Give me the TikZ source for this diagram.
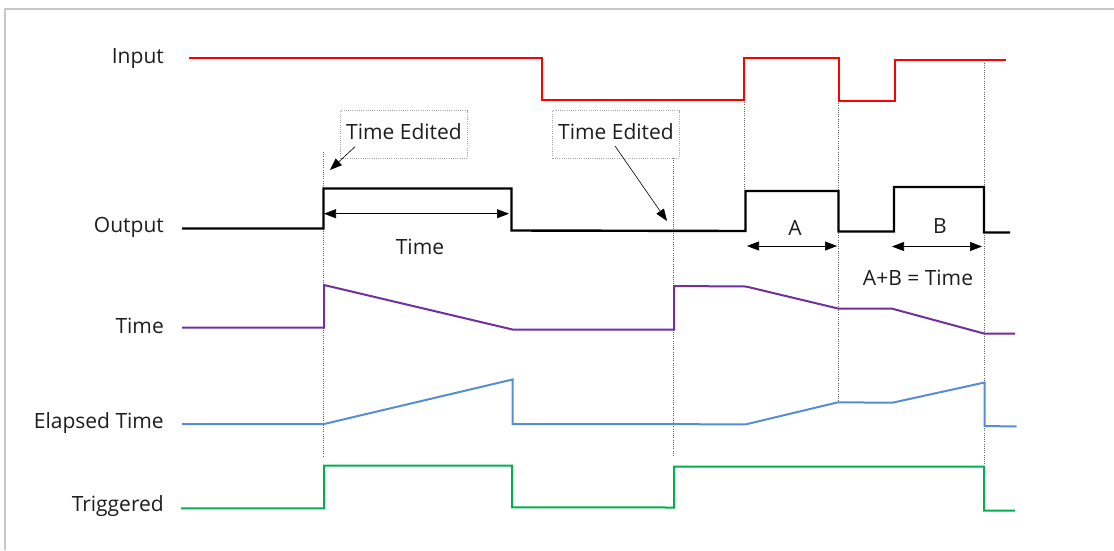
\documentclass[tikz,border=0pt]{standalone}
\usepackage{fontspec}
\setmainfont{Open Sans}
\usetikzlibrary{arrows.meta}
\definecolor{inred}{RGB}{255,0,0}
\definecolor{tpurple}{RGB}{112,48,160}
\definecolor{eblue}{RGB}{85,142,213}
\definecolor{tgreen}{RGB}{0,176,80}
\definecolor{txt}{RGB}{30,30,30}
\definecolor{frame}{RGB}{200,200,200}
\tikzset{
  sig/.style={line width=2pt, line join=miter},
  siglabel/.style={anchor=base east, text=txt, font=\fontsize{21}{25}\selectfont, inner sep=0pt},
  guide/.style={gray!80!black, line width=0.9pt, dash pattern=on 1pt off 1.2pt},
  editbox/.style={draw=gray!70, line width=0.8pt, dash pattern=on 1pt off 1.2pt, minimum width=126.6pt, minimum height=47.6pt, inner sep=0pt},
  edittext/.style={anchor=base, text=txt, font=\fontsize{21}{25}\selectfont, inner sep=0pt},
  callout/.style={-{Triangle[length=12pt,width=9pt]}, line width=0.6pt, black},
  dimarrow/.style={{Triangle[length=12pt,width=9pt]}-{Triangle[length=12pt,width=9pt]}, line width=0.6pt, black},
  dimlabel/.style={anchor=base, text=txt, font=\fontsize{21}{25}\selectfont, inner sep=0pt}
}
\begin{document}
\begin{tikzpicture}[x=1pt,y=-1pt]
\useasboundingbox (0,0) rectangle (1114,550);
\fill[white] (0,0) rectangle (1114,550);
% frame
\draw[frame, line width=1.5pt] (1114,9) -- (5,9) -- (5,550);

% labels
\node[siglabel] (lin) at (164,63.3) {Input};
\node[siglabel] (lout) at (164,232.5) {Output};
\node[siglabel] (ltime) at (164,333.5) {Time};
\node[siglabel] (lel) at (164,428.3) {Elapsed Time};
\node[siglabel] (ltr) at (164,511.7) {Triggered};

% guide lines
\draw[guide] (323.5,152) -- (323.5,457);
\draw[guide] (673.5,158) -- (673.5,457);
\draw[guide] (744,100) -- (744,190);
\draw[guide] (838,101) -- (838,402);
\draw[guide] (984.5,63) -- (984.5,466);

% Input
\draw[sig, inred] (189,58) -- (542,58) -- (542,99.5) -- (744,99.5) -- (744,57.5) -- (838.5,57.5) -- (838.5,100.5) -- (894.5,100.5) -- (894.5,60) -- (1006,60);

% Output
\draw[sig, black, line width=2.4pt] (182,228.5) -- (323.5,228.5) -- (323.5,188.5) -- (511.5,188.5) -- (511.5,230.5) -- (745.5,231) -- (745.5,191) -- (838.5,191) -- (838.5,231.5) -- (894,231.5) -- (894,187) -- (984,187) -- (984,232.5) -- (1010,232.5);

% Time
\draw[sig, tpurple] (182,327.5) -- (324,327.5) -- (324,285) -- (512.5,329.5) -- (674,329.5) -- (674,286) -- (746,286.5) -- (838,308.5) -- (891.5,308.5) -- (984,333.5) -- (1015,333.5);

% Elapsed time
\draw[sig, eblue] (182,424) -- (324,424) -- (512.5,379.5) -- (512.5,424) -- (746,424.3) -- (838,402.3) -- (892.5,402.7) -- (984.5,382.5) -- (984.5,426) -- (1016.5,426.5);

% Triggered
\draw[sig, tgreen] (181,508.3) -- (324,508.3) -- (324,465.7) -- (512,465.7) -- (512,507.3) -- (674,507.5) -- (674,466.5) -- (984,466.5) -- (984,510.7) -- (1015,510.7);

% Time edited boxes
\node[editbox] (b1) at (404,134.5) {};
\node[editbox] (b2) at (616,134.5) {};
\node[edittext] (b1txt) at (404,139.3) {Time Edited};
\node[edittext] (b2txt) at (616,139.3) {Time Edited};
\coordinate (b1s) at (355,146.7);
\coordinate (b1t) at (330,170);
\coordinate (b2s) at (615,146);
\coordinate (b2t) at (667,221);
\draw[callout] (b1s) -- (b1t);
\draw[callout] (b2s) -- (b2t);

% dimension arrows
\coordinate (t1) at (324,213.7);
\coordinate (t2) at (509,213.7);
\draw[dimarrow] (t1) -- (t2);
\node[dimlabel] (ltimedim) at (420,254.5) {Time};
\coordinate (a1) at (747,246);
\coordinate (a2) at (837,246);
\draw[dimarrow] (a1) -- (a2);
\node[dimlabel] (la) at (795,235.5) {A};
\coordinate (bb1) at (892,246.5);
\coordinate (bb2) at (982,246.5);
\draw[dimarrow] (bb1) -- (bb2);
\node[dimlabel] (lb) at (940,233.5) {B};
\node[dimlabel] (lab) at (918,285.5) {A+B = Time};
\end{tikzpicture}
\end{document}
